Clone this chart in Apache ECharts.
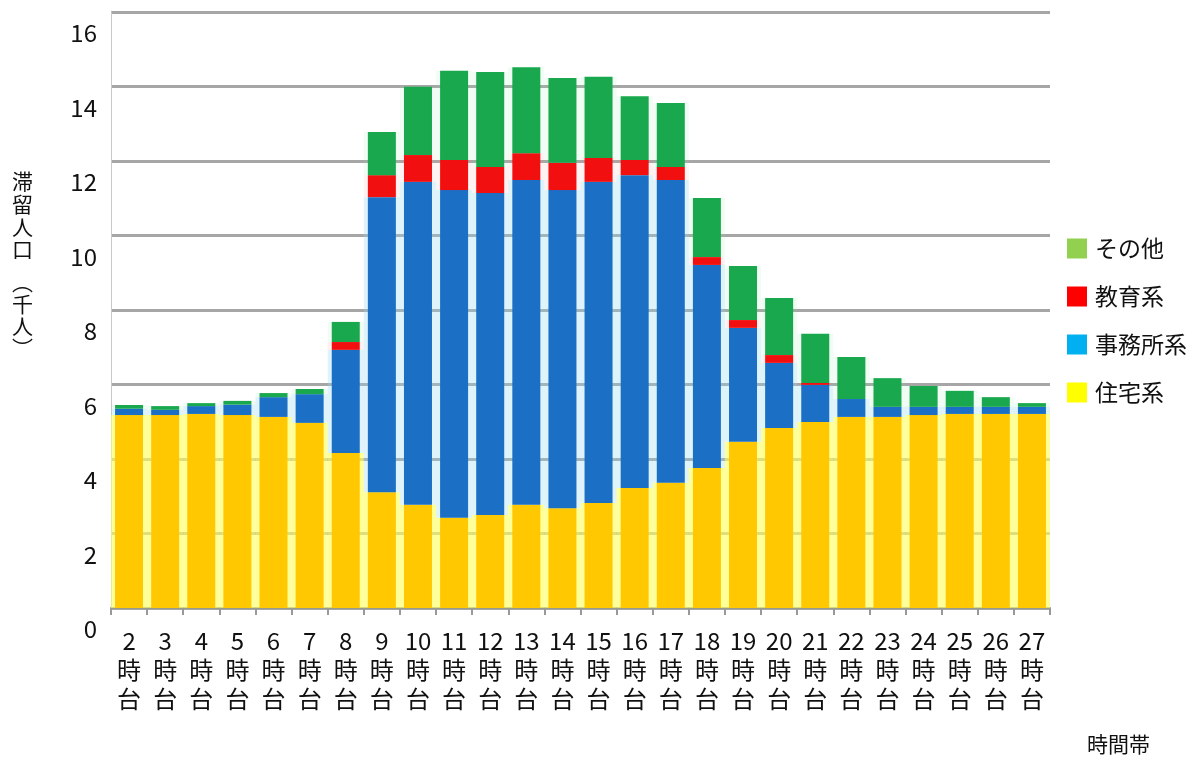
<!DOCTYPE html>
<html>
<head>
<meta charset="utf-8">
<script src="https://cdn.jsdelivr.net/npm/echarts@6/dist/echarts.min.js"></script>
<style>html,body{margin:0;padding:0;background:#fff}#c{width:1202px;height:760px}</style>
</head>
<body>
<div id="c"></div>
<script>
// ---- data (千人) ----
const categories = ['2時台','3時台','4時台','5時台','6時台','7時台','8時台','9時台','10時台','11時台','12時台','13時台','14時台','15時台','16時台','17時台','18時台','19時台','20時台','21時台','22時台','23時台','24時台','25時台','26時台','27時台'];
const residential = [5.18,5.18,5.21,5.18,5.13,4.97,4.16,3.11,2.77,2.42,2.50,2.77,2.68,2.82,3.22,3.36,3.76,4.46,4.83,4.99,5.13,5.13,5.18,5.21,5.21,5.21];
const office      = [0.17,0.14,0.21,0.28,0.53,0.77,2.77,7.92,8.67,8.80,8.64,8.72,8.54,8.62,8.40,8.13,5.45,3.06,1.75,1.00,0.48,0.27,0.22,0.19,0.19,0.19];
const education   = [0,0,0,0,0,0,0.21,0.59,0.72,0.81,0.70,0.72,0.73,0.64,0.41,0.35,0.21,0.21,0.21,0.05,0,0,0,0,0,0];
const other       = [0.10,0.10,0.08,0.10,0.11,0.14,0.54,1.16,1.83,2.39,2.55,2.31,2.28,2.18,1.71,1.72,1.59,1.45,1.53,1.32,1.13,0.77,0.56,0.43,0.26,0.10];
const yTicks = [0,2,4,6,8,10,12,14,16];
const seriesNames = ['住宅系','事務所系','教育系','その他'];

const FONT = '"Noto Sans CJK JP", "Noto Sans", sans-serif';
const chart = echarts.init(document.getElementById('c'), null, {renderer: 'canvas'});

const mainColors = ['#ffc800', '#1b6fc5', '#f20f0f', '#19a84e'];
const paleColors = ['rgba(255,255,100,0.65)', 'rgba(150,215,240,0.3)', 'rgba(255,150,150,0.12)', 'rgba(140,230,170,0.12)'];
const legendColors = ['#ffff00', '#00b0f0', '#ff0000', '#92d050'];
const dataSets = [residential, office, education, other];

const series = [];
dataSets.forEach((d, i) => {
  series.push({
    name: 'bg_' + seriesNames[i], type: 'bar', stack: 'bg', xAxisIndex: 1, yAxisIndex: 0,
    barCategoryGap: '0%', data: d, silent: true, z: 1,
    itemStyle: {color: paleColors[i]}
  });
});
dataSets.forEach((d, i) => {
  series.push({
    name: seriesNames[i], type: 'bar', stack: 'total', xAxisIndex: 0, yAxisIndex: 0,
    barWidth: 28, data: d, z: 3,
    itemStyle: {color: mainColors[i]}
  });
});

chart.setOption({
  animation: false,
  backgroundColor: '#ffffff',
  textStyle: {fontFamily: FONT},
  grid: {left: 111, right: 152, top: 12, bottom: 152, containLabel: false},
  legend: {
    orient: 'vertical', left: 1067, top: 237, padding: 0,
    itemWidth: 20, itemHeight: 20, itemGap: 25, icon: 'rect',
    selectedMode: false,
    textStyle: {fontFamily: FONT, fontSize: 23, color: '#111', padding: [0, 0, 0, 3]},
    data: [
      {name: 'その他', itemStyle: {color: legendColors[3]}},
      {name: '教育系', itemStyle: {color: legendColors[2]}},
      {name: '事務所系', itemStyle: {color: legendColors[1]}},
      {name: '住宅系', itemStyle: {color: legendColors[0]}}
    ]
  },
  xAxis: [
    {
      type: 'category', data: categories, boundaryGap: true,
      axisLine: {show: true, lineStyle: {color: '#9a9a8a', width: 2}},
      axisTick: {show: true, length: 7, lineStyle: {color: '#999', width: 2}},
      axisLabel: {
        interval: 0, margin: 18, color: '#111', fontFamily: FONT, fontSize: 24, lineHeight: 29,
        formatter: v => v.replace('時台', '') + '\n時\n台'
      },
      splitLine: {show: false}
    },
    {
      type: 'category', data: categories, boundaryGap: true, show: false, position: 'bottom'
    }
  ],
  yAxis: {
    type: 'value', min: yTicks[0], max: yTicks[yTicks.length - 1], interval: 2,
    axisLine: {show: true, lineStyle: {color: '#c8c8c8', width: 1}},
    axisTick: {show: false},
    axisLabel: {
      color: '#111', fontFamily: FONT, fontSize: 24, margin: 14,
      verticalAlign: 'top', lineHeight: 42
    },
    splitLine: {show: true, lineStyle: {color: '#a6a6a6', width: 3}}
  },
  graphic: [
    {type: 'text', left: 12, top: 170, style: {text: '滞\n留\n人\n口', font: '21px ' + FONT, lineHeight: 22.7, fill: '#111', align: 'center'}},
    {type: 'text', left: 12, top: 271, style: {text: '︵\n千\n人\n︶', font: '21px ' + FONT, lineHeight: 22, fill: '#111', align: 'center'}},
    {type: 'text', left: 1087, top: 734, style: {text: '時間帯', font: '21px ' + FONT, fill: '#111'}}
  ],
  series: series
});
</script>
</body>
</html>
